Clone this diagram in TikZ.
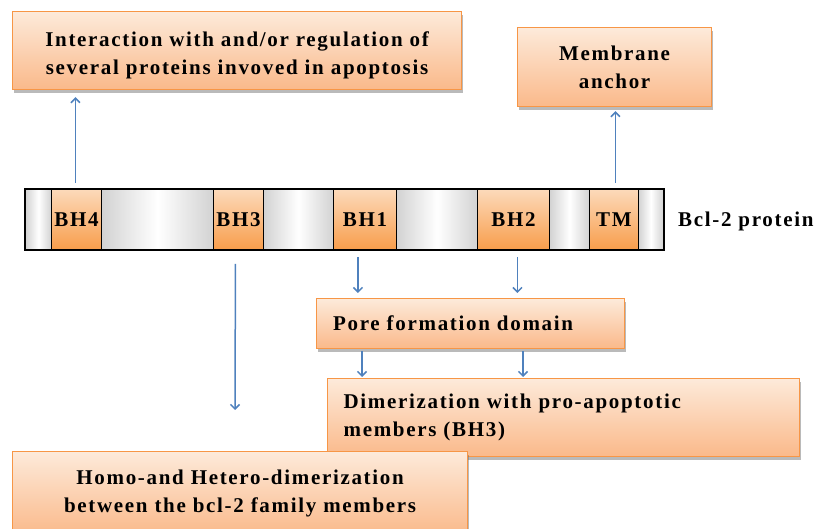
\documentclass[tikz,border=0pt]{standalone}
\usepackage{fontspec}
\setmainfont{Liberation Serif}[LetterSpace=8]
\usetikzlibrary{shadows,arrows.meta,calc}
\definecolor{orbord}{HTML}{F79646}
\definecolor{ortop}{HTML}{FDEADA}
\definecolor{orbot}{HTML}{FAB98A}
\definecolor{segtop}{HTML}{FCDABA}
\definecolor{segbot}{HTML}{F89E4C}
\definecolor{arrblue}{HTML}{4F81BD}
\definecolor{segedge}{HTML}{D2D2D2}
\begin{document}
\begin{tikzpicture}[x=1pt,y=-1pt,
  txt/.style={font=\fontsize{21}{28.5}\selectfont\bfseries},
  box/.style={txt, draw=orbord, line width=1.2pt, top color=ortop, bottom color=orbot,
    drop shadow={shadow xshift=1.5pt, shadow yshift=-3pt, opacity=0.45, fill=black!60},
    align=center, inner sep=0pt, anchor=north west},
  seg/.style={draw=black, line width=0.9pt, minimum height=60pt, inner sep=0pt, anchor=north west},
  grayseg/.style={seg, left color=segedge, right color=segedge, middle color=white},
  orseg/.style={seg, txt, top color=segtop, bottom color=segbot},
  arr/.style={draw=arrblue, line width=1.5pt, -{Straight Barb[length=4.5pt,width=9pt]}}
]
\useasboundingbox (0,0) rectangle (815,529);

% protein bar
\node[grayseg, minimum width=26pt] (g1) at (25,189) {};
\node[orseg, minimum width=50pt] (bh4) at (51,189) {BH4};
\node[grayseg, minimum width=112pt] (g2) at (101,189) {};
\node[orseg, minimum width=50pt] (bh3) at (213,189) {BH3};
\node[grayseg, minimum width=70pt] (g3) at (263,189) {};
\node[orseg, minimum width=63pt] (bh1) at (333,189) {BH1};
\node[grayseg, minimum width=81pt] (g4) at (396,189) {};
\node[orseg, minimum width=72pt] (bh2) at (477,189) {BH2};
\node[grayseg, minimum width=40pt] (g5) at (549,189) {};
\node[orseg, minimum width=49pt] (tm) at (589,189) {TM};
\node[grayseg, minimum width=25pt] (g6) at (638,189) {};
\draw[line width=1.4pt] (g1.north west) rectangle (g6.south east);
\node[txt, anchor=west, inner sep=0pt] (prot) at (678,221) {Bcl-2 protein};

% boxes
\node[box, minimum width=449pt, minimum height=78pt] (interact) at (12,11)
  {\rule{0pt}{24pt}Interaction with and/or regulation of\\several proteins invoved in apoptosis};
\node[box, minimum width=194pt, minimum height=79pt] (membrane) at (517,27)
  {Membrane\\anchor};
\node[box, align=left, text width=275pt, inner xsep=16.5pt, minimum height=50pt] (pore) at (316,298)
  {Pore formation domain};
\node[box, align=left, text width=440pt, inner xsep=16pt, minimum height=78pt] (dim) at (327,378)
  {Dimerization with pro-apoptotic\\members (BH3)};
\node[box, minimum width=455pt, minimum height=84pt] (homo) at (12,451)
  {Homo-and Hetero-dimerization\\between the bcl-2 family members};

% arrows
\coordinate (bh3end) at (235,410);
\draw[arr, shorten >=7pt] ([xshift=-1pt,yshift=6pt]bh4.north) -- ([xshift=-1pt]bh4.north |- interact.south);
\draw[arr, shorten >=4pt] ([xshift=1.5pt,yshift=6pt]tm.north) -- ([xshift=1.5pt]tm.north |- membrane.south);
\draw[arr] ([xshift=-3pt,yshift=-14pt]bh3.south) -- (bh3end);
\draw[arr, shorten >=5pt] ([xshift=-7pt,yshift=-7pt]bh1.south) -- ([xshift=-7pt]bh1.south |- pore.north);
\draw[arr, shorten >=5pt] ([xshift=4pt,yshift=-7pt]bh2.south) -- ([xshift=4pt]bh2.south |- pore.north);
\draw[arr, shorten >=1pt, shorten <=2pt] ([xshift=46pt]pore.south west) -- ([xshift=46pt]pore.south west |- dim.north);
\draw[arr, shorten >=1pt, shorten <=2pt] ([xshift=207pt]pore.south west) -- ([xshift=207pt]pore.south west |- dim.north);
\end{tikzpicture}
\end{document}
